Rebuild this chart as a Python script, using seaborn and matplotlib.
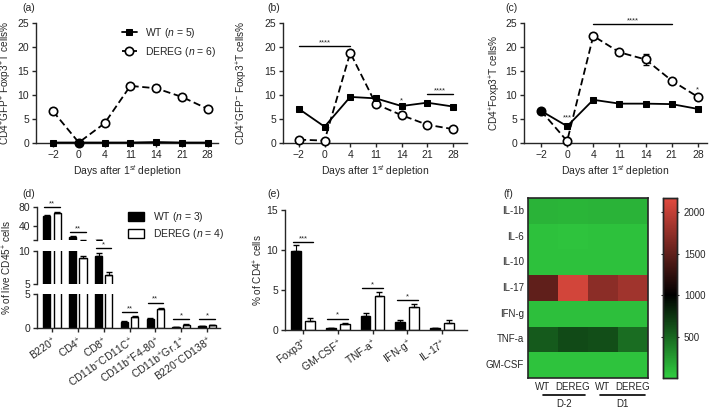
import numpy as np
import pandas as pd
import matplotlib
matplotlib.use("Agg")
import matplotlib.pyplot as plt
import seaborn as sns
from matplotlib.colors import LinearSegmentedColormap

sns.set_style("ticks")
plt.rcParams["font.family"] = ["Liberation Sans", "DejaVu Sans"]
plt.rcParams["mathtext.fontset"] = "custom"
plt.rcParams["mathtext.rm"] = "Liberation Sans"
plt.rcParams["mathtext.it"] = "Liberation Sans:italic"
plt.rcParams["axes.linewidth"] = 1.0

# ---- data ----
days = ["\u22122", "0", "4", "11", "14", "21", "28"]

a_wt = [0.1, 0.1, 0.1, 0.1, 0.2, 0.1, 0.1]
a_wt_err = [0.05, 0.05, 0.05, 0.05, 0.1, 0.05, 0.05]
a_dereg = [6.6, 0.1, 4.1, 11.9, 11.4, 9.6, 7.1]
a_dereg_err = [0.3, 0.05, 0.3, 0.3, 0.6, 0.3, 0.3]

b_wt = [7.1, 3.4, 9.6, 9.3, 7.7, 8.4, 7.6]
b_wt_err = [0.3, 0.3, 0.3, 0.4, 0.3, 0.3, 0.3]
b_dereg = [0.7, 0.5, 18.8, 8.1, 5.8, 3.8, 2.9]
b_dereg_err = [0.1, 0.1, 0.5, 0.3, 0.3, 0.2, 0.2]

c_wt = [6.7, 3.5, 9.0, 8.2, 8.2, 8.1, 7.1]
c_wt_err = [0.3, 0.3, 0.3, 0.3, 0.3, 0.3, 0.3]
c_dereg = [6.7, 0.4, 22.3, 18.9, 17.4, 13.0, 9.6]
c_dereg_err = [0.3, 0.1, 0.5, 0.5, 1.1, 0.4, 0.4]

d_cats = ["B220$^{+}$", "CD4$^{+}$", "CD8$^{+}$", "CD11b$^{-}$CD11C$^{+}$",
          "CD11b$^{+}$F4-80$^{+}$", "CD11b$^{+}$Gr.1$^{+}$", "B220$^{-}$CD138$^{+}$"]
d_wt = [60, 17, 9.2, 0.9, 1.3, 0.1, 0.25]
d_wt_err = [2, 1.5, 0.5, 0.1, 0.2, 0.05, 0.05]
d_dereg = [68, 8.9, 6.3, 1.6, 2.8, 0.5, 0.4]
d_dereg_err = [1.5, 0.4, 0.5, 0.1, 0.2, 0.1, 0.05]

e_cats = ["Foxp3$^{+}$", "GM-CSF$^{+}$", "TNF-a$^{+}$", "IFN-g$^{+}$", "IL-17$^{+}$"]
e_wt = [9.9, 0.25, 1.7, 1.0, 0.2]
e_wt_err = [0.7, 0.05, 0.4, 0.2, 0.05]
e_dereg = [1.1, 0.7, 4.2, 2.9, 0.9]
e_dereg_err = [0.4, 0.15, 0.6, 0.4, 0.3]

cytokines = ["IL-1b", "IL-6", "IL-10", "IL-17", "IFN-g", "TNF-a", "GM-CSF"]
heat_cols = ["WT", "DEREG", "WT", "DEREG"]
heat_vals = [[130, 125, 135, 130],
             [60, 55, 60, 60],
             [60, 60, 60, 60],
             [1500, 2080, 1720, 1830],
             [70, 70, 70, 70],
             [560, 640, 620, 470],
             [55, 55, 55, 55]]

FS = 7.5
W, H = 709, 408
fig = plt.figure(figsize=(W / 100, H / 100), dpi=100)


def rect(l, r, t, b):
    return [l / W, 1 - b / H, (r - l) / W, (b - t) / H]


def sig(ax, x0, x1, y, txt, dy=0.0):
    if x1 > x0:
        ax.plot([x0, x1], [y, y], color="black", lw=1, clip_on=False)
    ax.text((x0 + x1) / 2, y + dy, txt, ha="center", va="bottom", fontsize=5.5, clip_on=False)


def line_panel(ax, wt, wt_err, de, de_err, ylabel, xlim, lab_x, legend=False):
    xs = np.arange(len(days))
    ax.errorbar(xs, de, yerr=de_err, fmt="none", ecolor="black", elinewidth=0.8, capsize=2, clip_on=False)
    ax.errorbar(xs, wt, yerr=wt_err, fmt="none", ecolor="black", elinewidth=0.8, capsize=2, clip_on=False)
    sns.lineplot(x=xs, y=de, ax=ax, color="black", lw=1.3, linestyle=(0, (4, 2)),
                 marker="o", markersize=6, markerfacecolor="white", markeredgecolor="black",
                 markeredgewidth=1.2, label="DEREG ($n$ = 6)", clip_on=False, zorder=3)
    sns.lineplot(x=xs, y=wt, ax=ax, color="black", lw=1.3, marker="s", markersize=5,
                 markeredgecolor="black", label="WT ($n$ = 5)", clip_on=False, zorder=4)
    ax.set_xlim(*xlim)
    ax.set_ylim(0, 25)
    ax.set_yticks([0, 5, 10, 15, 20, 25])
    ax.set_xticks(xs)
    ax.set_xticklabels(days)
    ax.tick_params(labelsize=FS, length=3, width=1, pad=2)
    ax.set_xlabel("Days after 1$^{st}$ depletion", fontsize=FS, labelpad=2)
    ax.set_ylabel(ylabel, fontsize=FS - 0.3)
    ax.yaxis.set_label_coords(lab_x, 0.5)
    sns.despine(ax=ax)
    if legend:
        h, l = ax.get_legend_handles_labels()
        ax.legend(h[::-1], l[::-1], loc="upper right", frameon=False, fontsize=FS,
                  handlelength=1.4, borderaxespad=0.1, bbox_to_anchor=(1.02, 1.02))
    else:
        ax.get_legend().remove()


ax_a = fig.add_axes(rect(36, 218, 23, 143))
line_panel(ax_a, a_wt, a_wt_err, a_dereg, a_dereg_err,
           "CD4$^{+}$GFP$^{+}$ Foxp3$^{+}$T cells%", (-0.66, 6.4), -0.12, legend=True)

ax_b = fig.add_axes(rect(283, 467, 23, 143))
line_panel(ax_b, b_wt, b_wt_err, b_dereg, b_dereg_err,
           "CD4$^{+}$GFP$^{-}$ Foxp3$^{+}$T cells%", (-0.62, 6.55), -0.18)
sig(ax_b, 0, 2, 20.2, "****")
sig(ax_b, 4, 4, 8.0, "*")
sig(ax_b, 5, 6, 10.2, "****")

ax_c = fig.add_axes(rect(524, 707, 23, 143))
line_panel(ax_c, c_wt, c_wt_err, c_dereg, c_dereg_err,
           "CD4$^{+}$Foxp3$^{+}$T cells%", (-0.65, 6.35), -0.115)
sig(ax_c, 2, 5, 24.7, "****")
sig(ax_c, 1, 1, 4.4, "***")
sig(ax_c, 6, 6, 10.3, "*")

# ---- panel d: broken axis bar chart ----
d_df = pd.DataFrame({"cat": d_cats * 2, "val": d_wt + d_dereg,
                     "grp": ["WT ($n$ = 3)"] * 7 + ["DEREG ($n$ = 4)"] * 7})
segs = [((207, 240), (10, 80), [40, 80], ["40", "80"]),
        ((251, 284), (5, 10), [5, 10], ["5", "10"]),
        ((294, 328), (0, 5), [0, 5], ["0", "5"])]
d_axes = []
for (t, b), ylim, ticks, labels in segs:
    ax = fig.add_axes(rect(37, 220, t, b))
    sns.barplot(data=d_df, x="cat", y="val", hue="grp", ax=ax, palette=["black", "white"],
                edgecolor="black", linewidth=1, gap=0.3, width=0.8, legend=(t == 207))
    xs = np.arange(7)
    ax.errorbar(xs - 0.2, d_wt, yerr=[np.zeros(7), d_wt_err], fmt="none", ecolor="black",
                elinewidth=0.8, capsize=2)
    ax.errorbar(xs + 0.2, d_dereg, yerr=[np.zeros(7), d_dereg_err], fmt="none", ecolor="black",
                elinewidth=0.8, capsize=2)
    ax.set_ylim(*ylim)
    ax.set_xlim(-0.58, 6.5)
    ax.set_yticks(ticks + ([ylim[0]] if ylim[0] == 10 else []))
    ax.set_yticklabels(labels + ([""] if ylim[0] == 10 else []))
    ax.tick_params(labelsize=FS, length=3, width=1, pad=2)
    ax.set_xlabel("")
    ax.set_ylabel("")
    for s in ["top", "right"]:
        ax.spines[s].set_visible(False)
    if b != 328:
        ax.spines["bottom"].set_visible(False)
        ax.tick_params(axis="x", bottom=False, labelbottom=False)
    d_axes.append(ax)

top_d, mid_d, bot_d = d_axes
bot_d.set_xticks(np.arange(7))
bot_d.set_xticklabels(d_cats, rotation=35, ha="right", rotation_mode="anchor", fontsize=FS)
mid_d.set_ylabel("% of live CD45$^{+}$ cells", fontsize=FS - 0.3)
mid_d.yaxis.set_label_coords((14 - 37) / 183, 0.5)
top_d.legend(loc="upper right", frameon=False, fontsize=FS, handlelength=1.6,
             handleheight=0.9, bbox_to_anchor=(1.05, 1.06), borderaxespad=0.1,
             labelspacing=0.3)
sig(top_d, -0.3, 0.3, 80, "**")
sig(top_d, 0.7, 1.3, 27, "**")
sig(mid_d, 1.7, 2.3, 10.4, "*")
sig(bot_d, 2.7, 3.3, 2.35, "**")
sig(bot_d, 3.7, 4.3, 3.7, "**")
sig(bot_d, 4.7, 5.3, 1.3, "*")
sig(bot_d, 5.7, 6.3, 1.3, "*")

# ---- panel e ----
e_df = pd.DataFrame({"cat": e_cats * 2, "val": e_wt + e_dereg,
                     "grp": ["WT"] * 5 + ["DEREG"] * 5})
ax_e = fig.add_axes(rect(285, 467, 210, 330))
sns.barplot(data=e_df, x="cat", y="val", hue="grp", ax=ax_e, palette=["black", "white"],
            edgecolor="black", linewidth=1, gap=0.3, width=0.8, legend=False)
xs = np.arange(5)
ax_e.errorbar(xs - 0.2, e_wt, yerr=[np.zeros(5), e_wt_err], fmt="none", ecolor="black",
              elinewidth=0.8, capsize=2)
ax_e.errorbar(xs + 0.2, e_dereg, yerr=[np.zeros(5), e_dereg_err], fmt="none", ecolor="black",
              elinewidth=0.8, capsize=2)
ax_e.set_ylim(0, 15)
ax_e.set_xlim(-0.52, 4.72)
ax_e.set_yticks([0, 5, 10, 15])
ax_e.set_xticks(xs)
ax_e.set_xticklabels(e_cats, rotation=35, ha="right", rotation_mode="anchor")
ax_e.tick_params(labelsize=FS, length=3, width=1, pad=2)
ax_e.set_xlabel("")
ax_e.set_ylabel("% of CD4$^{+}$ cells", fontsize=FS - 0.3)
ax_e.yaxis.set_label_coords((265 - 285) / 182, 0.5)
sns.despine(ax=ax_e)
sig(ax_e, -0.3, 0.3, 11.0, "***")
sig(ax_e, 0.7, 1.3, 1.4, "*")
sig(ax_e, 1.7, 2.3, 5.25, "*")
sig(ax_e, 2.7, 3.3, 3.75, "*")

# ---- panel f: heatmap ----
cmap = LinearSegmentedColormap.from_list(
    "gbr", [(0, "#30cd40"), (1000 / 2170, "#000000"), (1, "#e24a3f")])
ax_f = fig.add_axes(rect(528, 648, 198, 378))
cax = fig.add_axes(rect(663, 677, 198, 378))
heat_df = pd.DataFrame(heat_vals, index=cytokines)
sns.heatmap(heat_df, ax=ax_f, cbar_ax=cax, cmap=cmap, vmin=0, vmax=2170,
            xticklabels=heat_cols, yticklabels=cytokines)
for s in ax_f.spines.values():
    s.set_visible(True)
    s.set_linewidth(1.2)
ax_f.tick_params(length=0, labelsize=FS - 0.5, pad=3)
ax_f.set_yticklabels(cytokines, rotation=0)
ax_f.set_xticklabels(heat_cols, rotation=0)
ax_f.tick_params(axis="x", pad=3)
for x0, x1, lab in [(0.5, 1.9, "D-2"), (2.4, 3.9, "D1")]:
    ax_f.plot([x0, x1], [7.68, 7.68], color="black", lw=1.2, clip_on=False)
    ax_f.text((x0 + x1) / 2, 7.8, lab, ha="center", va="top", fontsize=FS - 0.5)
cax.set_yticks([500, 1000, 1500, 2000])
cax.tick_params(labelsize=FS - 0.5, direction="inout", left=True, right=True, length=3, width=0.8)
for s in cax.spines.values():
    s.set_visible(True)
    s.set_linewidth(1)

for lab, x, y in [("(a)", 22, 8), ("(b)", 267, 8), ("(c)", 505, 8),
                  ("(d)", 22, 194), ("(e)", 267, 194), ("(f)", 503, 194)]:
    fig.text(x / W, 1 - y / H, lab, fontsize=FS, va="center", ha="left")

fig.savefig("out.png", dpi=100)
